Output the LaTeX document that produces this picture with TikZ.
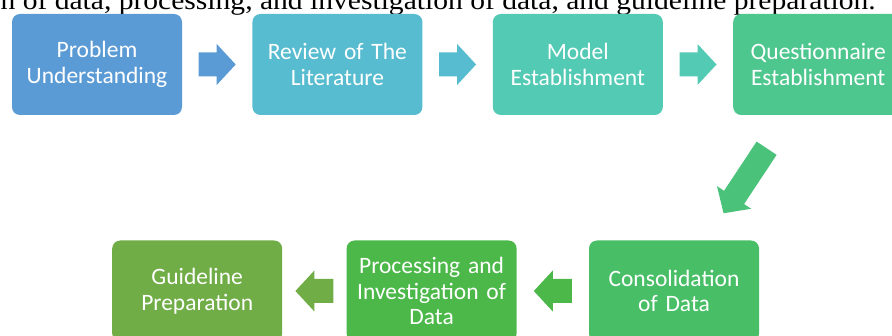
\documentclass[tikz,border=0pt]{standalone}
\usepackage{fontspec}
\setmainfont{Liberation Serif}
\newfontfamily\boxfont{Carlito}
\newfontfamily\introfont[FakeStretch=1.095]{Liberation Serif}
\usetikzlibrary{positioning,calc}

\definecolor{stepblue}{HTML}{5B9BD5}
\definecolor{stepcyan}{HTML}{57BCCF}
\definecolor{stepteal}{HTML}{53CAB4}
\definecolor{stepmint}{HTML}{4EC78F}
\definecolor{arrowgreen}{HTML}{4BC27A}
\definecolor{stepgreen}{HTML}{48BF66}
\definecolor{steplime}{HTML}{4CB849}
\definecolor{stepolive}{HTML}{70AD47}

\begin{document}
\begin{tikzpicture}[x=1pt,y=-1pt,
	box/.style={rounded corners=8pt,minimum width=170pt,minimum height=101pt,inner sep=0pt,
		text width=166pt,align=center,text=white,font=\boxfont\fontsize{23.5}{25.5}\selectfont},
	blockarrow/.pic={\path[pic actions] (-#1/2,-12) -- (#1/2-19,-12) -- (#1/2-19,-20.5) -- (#1/2,0)
		-- (#1/2-19,20.5) -- (#1/2-19,12) -- (-#1/2,12) -- cycle;}]
	\useasboundingbox (0,0) rectangle (892,336);
	
	% line of the text above, cut by the page
	\node[anchor=base east,inner sep=0pt,font=\introfont\fontsize{27}{32}\selectfont] (intro) at (876,9.5)
		{n of data, processing, and investigation of data, and guideline preparation.};
	
	\node[box,fill=stepblue] (pu) at (97,64.5) {Problem\\Understanding};
	\node[box,fill=stepcyan,right=70pt of pu] (rl) {Review of The\\Literature};
	\node[box,fill=stepteal,right=70pt of rl] (me) {Model\\Establishment};
	\node[box,fill=stepmint,right=70pt of me] (qe) {Questionnaire\\Establishment};
	\node[box,fill=stepgreen] (cd) at (674,291) {Consolidation\\of Data};
	\node[box,fill=steplime,left=72pt of cd] (pi) {Processing and\\Investigation of\\Data};
	\node[box,fill=stepolive,left=64pt of pi] (gp) {Guideline\\Preparation};
	
	\pic[fill=stepblue] at ($(pu.east)!0.5!(rl.west)$) {blockarrow=37};
	\pic[fill=stepcyan] at ($(rl.east)!0.5!(me.west)$) {blockarrow=37};
	\pic[fill=stepteal] at ($(me.east)!0.5!(qe.west)$) {blockarrow=37};
	\pic[fill=arrowgreen,rotate=236.5] at ($(qe.south)!0.5!(cd.north)+(-1,3)$) {blockarrow=78};
	\pic[fill=steplime,rotate=180] at ($(cd.west)!0.5!(pi.east)$) {blockarrow=38};
	\pic[fill=stepolive,rotate=180] at ($(pi.west)!0.5!(gp.east)$) {blockarrow=38};
\end{tikzpicture}
\end{document}
